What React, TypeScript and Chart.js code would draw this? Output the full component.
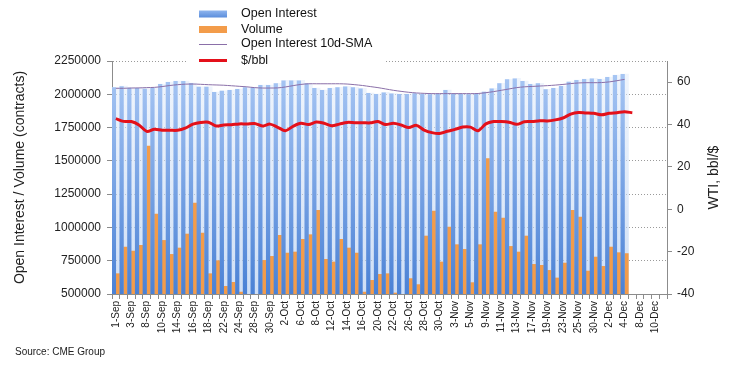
import React, { useEffect, useRef } from 'react';
import { Chart, registerables } from 'chart.js';

Chart.register(...registerables);

const dates = [
  '1-Sep', '2-Sep', '3-Sep', '4-Sep', '8-Sep', '9-Sep', '10-Sep', '11-Sep', '14-Sep', '15-Sep',
  '16-Sep', '17-Sep', '18-Sep', '21-Sep', '22-Sep', '23-Sep', '24-Sep', '25-Sep', '28-Sep', '29-Sep',
  '30-Sep', '1-Oct', '2-Oct', '5-Oct', '6-Oct', '7-Oct', '8-Oct', '9-Oct', '12-Oct', '13-Oct',
  '14-Oct', '15-Oct', '16-Oct', '19-Oct', '20-Oct', '21-Oct', '22-Oct', '23-Oct', '26-Oct', '27-Oct',
  '28-Oct', '29-Oct', '30-Oct', '2-Nov', '3-Nov', '4-Nov', '5-Nov', '6-Nov', '9-Nov', '10-Nov',
  '11-Nov', '12-Nov', '13-Nov', '16-Nov', '17-Nov', '18-Nov', '19-Nov', '20-Nov', '23-Nov', '24-Nov',
  '25-Nov', '27-Nov', '30-Nov', '1-Dec', '2-Dec', '3-Dec', '4-Dec', '7-Dec', '8-Dec', '9-Dec',
  '10-Dec', '11-Dec',
];

const openInterest = [
  2052000, 2061000, 2049000, 2047000, 2041000, 2049000, 2077000, 2092000, 2099000, 2099000,
  2084000, 2056000, 2056000, 2017000, 2026000, 2032000, 2039000, 2052000, 2052000, 2069000,
  2069000, 2082000, 2104000, 2104000, 2104000, 2082000, 2047000, 2032000, 2047000, 2052000,
  2059000, 2052000, 2044000, 2009000, 2002000, 2014000, 2005000, 2002000, 2002000, 2007000,
  2002000, 2000000, 2004000, 2032000, 2002000, 2002000, 2000000, 2005000, 2019000, 2044000,
  2082000, 2112000, 2119000, 2099000, 2077000, 2082000, 2037000, 2047000, 2062000, 2094000,
  2107000, 2114000, 2119000, 2114000, 2129000, 2144000, 2152000, null, null, null,
  null, null,
];

const volume = [
  655000, 855000, 825000, 868000, 1613000, 1103000, 905000, 800000, 848000, 953000,
  1186000, 960000, 655000, 753000, 560000, 590000, 517000, 470000, 470000, 755000,
  785000, 943000, 810000, 818000, 913000, 948000, 1131000, 763000, 743000, 913000,
  848000, 810000, 517000, 605000, 650000, 655000, 510000, 480000, 618000, 573000,
  938000, 1126000, 743000, 1005000, 873000, 838000, 588000, 873000, 1519000, 1118000,
  1073000, 860000, 818000, 938000, 725000, 718000, 680000, 623000, 735000, 1131000,
  1081000, 675000, 780000, 710000, 855000, 813000, 806000, null, null, null,
  null, null,
];

const oiSma10d = [
  2045000, 2045000, 2047000, 2048000, 2050000, 2052000, 2058000, 2066000, 2072000, 2076000,
  2077000, 2075000, 2072000, 2070000, 2068000, 2064000, 2060000, 2056000, 2050000, 2047000,
  2047000, 2048000, 2055000, 2065000, 2074000, 2079000, 2079000, 2079000, 2079000, 2079000,
  2077000, 2072000, 2066000, 2058000, 2050000, 2040000, 2030000, 2022000, 2015000, 2010000,
  2007000, 2005000, 2005000, 2005000, 2005000, 2005000, 2005000, 2006000, 2012000, 2020000,
  2030000, 2040000, 2050000, 2056000, 2059000, 2062000, 2065000, 2069000, 2074000, 2080000,
  2085000, 2087000, 2087000, 2088000, 2093000, 2102000, 2112000, null, null, null,
  null, null,
];

const wtiPrice = [
  42.8, 41.5, 41.4, 39.8, 36.8, 37.8, 37.3, 37.3, 37.3, 38.3,
  40.2, 41.0, 41.1, 39.3, 39.8, 39.9, 40.3, 40.3, 40.5, 39.3,
  40.2, 38.7, 37.1, 39.2, 40.6, 40.0, 41.2, 40.6, 39.4, 40.2,
  41.0, 40.9, 40.9, 40.8, 41.4, 40.0, 40.6, 39.8, 38.6, 39.6,
  37.4, 36.2, 35.8, 36.8, 37.7, 38.8, 38.8, 37.1, 40.3, 41.4,
  41.4, 41.1, 40.1, 41.3, 41.4, 41.8, 41.7, 42.2, 43.1, 44.9,
  45.7, 45.5, 45.3, 44.6, 45.3, 45.6, 46.0, 45.6, null, null,
  null, null,
];

const leftTicks = [500000, 750000, 1000000, 1250000, 1500000, 1750000, 2000000, 2250000];
const rightTicks = [-40, -20, 0, 20, 40, 60];
const leftMin = 500000;
const leftMax = 2250000;
const rightMin = -40;
const rightMax = 70;

const seriesLabels = ['Open Interest', 'Volume', 'Open Interest 10d-SMA', '$/bbl'];
const leftTitle = 'Open Interest / Volume (contracts)';
const rightTitle = 'WTI, bbl/$';
const sourceText = 'Source: CME Group';

const FONT = "'Liberation Sans', Arial, Helvetica, sans-serif";
const TXT = '#222222';
const AXIS = '#8c8c8c';
const GRID = '#9a9a9a';
const ORANGE = '#f39c4a';
const SMA_COLOR = '#8a6fa8';
const RED = '#e4101a';

function vGradient(chart: any, top: string, bottom: string, fallback: string) {
  const area = chart.chartArea;
  if (!area) return fallback;
  const g = chart.ctx.createLinearGradient(0, area.top + 15, 0, area.bottom);
  g.addColorStop(0, top);
  g.addColorStop(1, bottom);
  return g;
}

const overlayPlugin = {
  id: 'overlay',
  afterDraw(chart: any) {
    const { ctx, chartArea } = chart;
    ctx.save();
    // legend backdrop
    ctx.fillStyle = '#ffffff';
    ctx.fillRect(186, 0, 200, 66);
    const rows = [14, 29.5, 44, 60.5];
    const sx = 199;
    const sw = 28;
    const g = ctx.createLinearGradient(0, rows[0] - 3.5, 0, rows[0] + 3.5);
    g.addColorStop(0, '#8fb5ee');
    g.addColorStop(1, '#5b8edc');
    ctx.fillStyle = g;
    ctx.fillRect(sx, rows[0] - 3.5, sw, 7);
    ctx.fillStyle = ORANGE;
    ctx.fillRect(sx, rows[1] - 3.5, sw, 7);
    ctx.strokeStyle = SMA_COLOR;
    ctx.lineWidth = 1;
    ctx.beginPath();
    ctx.moveTo(sx, rows[2] + 0.5);
    ctx.lineTo(sx + sw, rows[2] + 0.5);
    ctx.stroke();
    ctx.strokeStyle = RED;
    ctx.lineWidth = 3;
    ctx.beginPath();
    ctx.moveTo(sx, rows[3]);
    ctx.lineTo(sx + sw, rows[3]);
    ctx.stroke();
    ctx.fillStyle = '#111111';
    ctx.font = `12.5px ${FONT}`;
    ctx.textBaseline = 'middle';
    ctx.textAlign = 'left';
    seriesLabels.forEach((l, i) => ctx.fillText(l, 241, rows[i]));

    ctx.save();
    ctx.translate(714, (chartArea.top + chartArea.bottom) / 2);
    ctx.rotate(-Math.PI / 2);
    ctx.textAlign = 'center';
    ctx.textBaseline = 'middle';
    ctx.fillStyle = TXT;
    ctx.font = `14px ${FONT}`;
    ctx.fillText(rightTitle, 0, 0);
    ctx.restore();

    ctx.fillStyle = TXT;
    ctx.font = `10px ${FONT}`;
    ctx.textAlign = 'left';
    ctx.textBaseline = 'middle';
    ctx.fillText(sourceText, 15, 352);
    ctx.restore();
  },
};

export default function App() {
  const ref = useRef<HTMLCanvasElement>(null);

  useEffect(() => {
    document.body.style.margin = '0';
    const canvas = ref.current;
    if (!canvas) return;

    const chart = new Chart(canvas, {
      type: 'bar',
      data: {
        labels: dates,
        datasets: [
          {
            type: 'bar',
            label: seriesLabels[0],
            data: openInterest,
            yAxisID: 'y',
            order: 3,
            backgroundColor: (c: any) => vGradient(c.chart, '#a6c5f3', '#4a81d5', '#78a4e6'),
            borderWidth: 0,
            barPercentage: 1.1,
            categoryPercentage: 1,
            clip: 0,
          },
          {
            type: 'bar',
            label: seriesLabels[1],
            data: volume,
            yAxisID: 'y',
            order: 4,
            backgroundColor: ORANGE,
            borderWidth: 0,
            barPercentage: 1.1,
            categoryPercentage: 1,
            clip: 0,
          },
          {
            type: 'line',
            label: seriesLabels[2],
            data: oiSma10d,
            yAxisID: 'y',
            order: 2,
            borderColor: SMA_COLOR,
            borderWidth: 1,
            pointRadius: 0,
            tension: 0.3,
            fill: false,
          },
          {
            type: 'line',
            label: seriesLabels[3],
            data: wtiPrice,
            yAxisID: 'y2',
            order: 1,
            borderColor: RED,
            borderWidth: 3,
            pointRadius: 0,
            tension: 0.3,
            fill: false,
          },
          {
            type: 'bar',
            label: 'Open Interest glow',
            data: openInterest,
            yAxisID: 'y',
            order: 5,
            grouped: false,
            backgroundColor: (c: any) =>
              vGradient(c.chart, 'rgba(226,236,250,0.55)', 'rgba(180,205,240,0.65)', 'rgba(210,225,246,0.6)'),
            borderWidth: 0,
            barPercentage: 1,
            categoryPercentage: 1,
            clip: 0,
          },
        ],
      } as any,
      options: {
        responsive: false,
        animation: false,
        layout: { padding: { top: 61, left: 0, right: 0, bottom: 0 } },
        plugins: {
          legend: { display: false },
          tooltip: { enabled: false },
          title: { display: false },
        },
        scales: {
          x: {
            type: 'category',
            offset: true,
            grid: {
              display: true,
              drawOnChartArea: false,
              drawTicks: true,
              tickLength: 5,
              color: AXIS,
              offset: true,
            },
            border: { display: true, color: AXIS, width: 1 },
            ticks: {
              autoSkip: false,
              maxRotation: 90,
              minRotation: 90,
              padding: 2,
              color: TXT,
              font: { family: FONT, size: 10 },
              callback: (_v: any, i: number) => (i % 2 === 0 ? dates[i] : ''),
            },
            afterFit: (s: any) => {
              s.height = 76;
            },
          },
          y: {
            position: 'left',
            min: leftMin,
            max: leftMax,
            afterBuildTicks: (s: any) => {
              s.ticks = leftTicks.map((v) => ({ value: v }));
            },
            grid: {
              color: GRID,
              lineWidth: 1,
              drawTicks: true,
              tickLength: 5,
              tickColor: AXIS,
            },
            border: { display: true, color: AXIS, width: 1, dash: [1, 2] },
            ticks: {
              padding: 6,
              color: TXT,
              font: { family: FONT, size: 12 },
              callback: (v: any) => String(v),
            },
            title: {
              display: true,
              text: leftTitle,
              color: TXT,
              font: { family: FONT, size: 14 },
              padding: { top: 12, bottom: 0 },
            },
            afterFit: (s: any) => {
              s.width = 112;
            },
          },
          y2: {
            position: 'right',
            min: rightMin,
            max: rightMax,
            afterBuildTicks: (s: any) => {
              s.ticks = rightTicks.map((v) => ({ value: v }));
            },
            grid: {
              drawOnChartArea: false,
              drawTicks: true,
              tickLength: 5,
              color: AXIS,
            },
            border: { display: true, color: AXIS, width: 1 },
            ticks: {
              padding: 5,
              color: TXT,
              font: { family: FONT, size: 12 },
              callback: (v: any) => String(v),
            },
            afterFit: (s: any) => {
              s.width = 69;
            },
          },
        },
      } as any,
      plugins: [overlayPlugin],
    });

    return () => chart.destroy();
  }, []);

  return (
    <div style={{ width: 736, height: 370, position: 'relative', background: '#ffffff' }}>
      <canvas ref={ref} width={736} height={370} style={{ display: 'block' }} />
    </div>
  );
}
